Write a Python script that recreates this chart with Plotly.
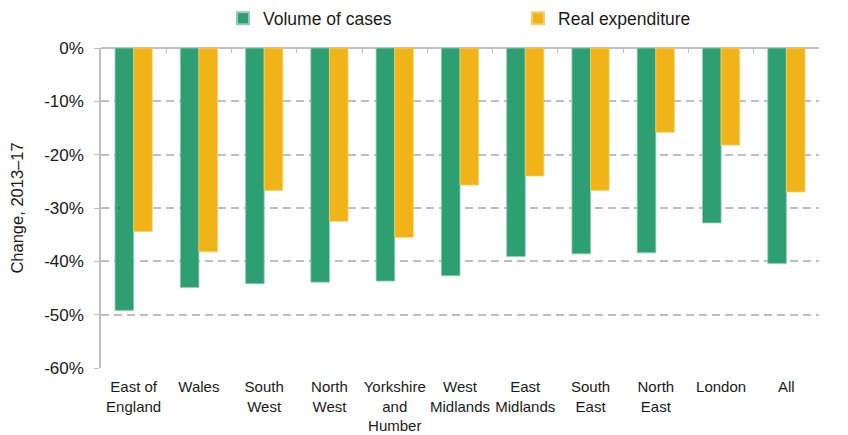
import plotly.graph_objects as go

regions = ["East of<br>England", "Wales", "South<br>West", "North<br>West",
           "Yorkshire<br>and<br>Humber", "West<br>Midlands", "East<br>Midlands",
           "South<br>East", "North<br>East", "London", "All"]
volume = [-49.2, -44.9, -44.2, -43.9, -43.7, -42.7, -39.1, -38.6, -38.4, -32.8, -40.4]
expenditure = [-34.4, -38.2, -26.7, -32.5, -35.5, -25.7, -24.0, -26.7, -15.8, -18.2, -27.0]
ytick_vals = [0, -10, -20, -30, -40, -50, -60]
ytick_text = ["0%", "-10%", "-20%", "-30%", "-40%", "-50%", "-60%"]

GREEN = "#2e9e73"
YELLOW = "#f0b419"
GRID = "#bfbfbf"
TXT = "#1a1a1a"
FONT = "Liberation Sans, Arial, sans-serif"

fig = go.Figure()
fig.add_trace(go.Bar(x=regions, y=volume, name="Volume of cases",
                     marker=dict(color=GREEN, line=dict(color="#8fcdb5", width=0.8))))
fig.add_trace(go.Bar(x=regions, y=expenditure, name="Real expenditure",
                     marker=dict(color=YELLOW, line=dict(color="#f5cf6a", width=0.8))))
# overlay axis for the category-boundary tick marks on the 0% line
fig.add_trace(go.Scatter(x=[], y=[], xaxis="x2", showlegend=False, hoverinfo="skip"))

n = len(regions)
fig.update_layout(
    width=848, height=435,
    margin=dict(l=101, r=29, t=48, b=67, autoexpand=False),
    paper_bgcolor="white", plot_bgcolor="white",
    font=dict(family=FONT, size=14, color=TXT),
    barmode="group", bargap=0.43, bargroupgap=0,
    showlegend=True,
    legend=dict(orientation="h", x=0.263, xanchor="left", y=0.958, yanchor="middle",
                yref="container", xref="container", entrywidth=250,
                font=dict(size=17.5, color=TXT), traceorder="normal",
                itemsizing="constant", bgcolor="rgba(0,0,0,0)"),
    xaxis=dict(type="category", range=[-0.5, n - 0.5], showline=False, ticks="",
               showgrid=False, tickfont=dict(size=15, color=TXT), ticklabelstandoff=8),
    xaxis2=dict(overlaying="x", side="top", range=[-0.5, n - 0.5], showline=False,
                tickmode="array", tickvals=[i - 0.5 for i in range(n + 1)],
                ticks="inside", ticklen=5, tickcolor=GRID, tickwidth=1,
                showticklabels=False, showgrid=False, zeroline=False),
    yaxis=dict(range=[-60, 0], tickmode="array", tickvals=ytick_vals, ticktext=ytick_text,
               showgrid=True, gridcolor=GRID, griddash="8px,5px", gridwidth=1.5,
               zeroline=True, zerolinecolor=GRID, zerolinewidth=1.5,
               showline=True, linecolor=GRID, linewidth=1.5,
               ticks="outside", ticklen=5, tickcolor=GRID, ticklabelstandoff=7,
               tickfont=dict(size=17, color=TXT),
               title=dict(text="Change, 2013\u201317", font=dict(size=16.5, color=TXT),
                          standoff=16)),
)
fig.write_html("out.html")
